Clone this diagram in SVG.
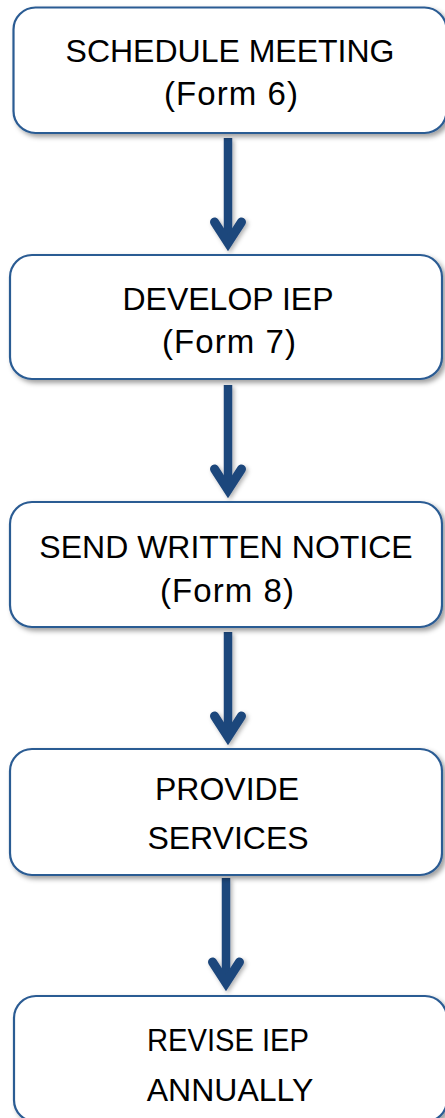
<svg xmlns="http://www.w3.org/2000/svg" width="445" height="1118" viewBox="0 0 445 1118">
<defs>
<filter id="sh" x="-10%" y="-10%" width="130%" height="130%">
<feDropShadow dx="3" dy="3" stdDeviation="2.5" flood-color="#000" flood-opacity="0.38"/>
</filter>
<filter id="ash" x="-50%" y="-10%" width="200%" height="130%">
<feDropShadow dx="2" dy="2" stdDeviation="2" flood-color="#000" flood-opacity="0.3"/>
</filter>
</defs>
<style>
.box{fill:#fff;stroke:#2B5B93;stroke-width:2.2;filter:url(#sh)}
.t{font-family:"Liberation Sans",Arial,sans-serif;font-size:32px;fill:#000;text-anchor:middle}
.f{font-size:33px}
.shaft{stroke:#1F477B;stroke-width:8.5;fill:none}
.head{stroke:#1F477B;stroke-width:9;fill:none;stroke-linecap:round;stroke-linejoin:miter;stroke-miterlimit:10}
</style>
<rect width="445" height="1118" fill="#fff"/>
<g id="connectors" filter="url(#ash)">
<g id="arrow1"><line class="shaft" x1="228" y1="138" x2="228" y2="242"/><polyline class="head" points="214.5,222 228,243 241.5,222"/></g>
<g id="arrow2"><line class="shaft" x1="228" y1="385" x2="228" y2="489"/><polyline class="head" points="214.5,469 228,490 241.5,469"/></g>
<g id="arrow3"><line class="shaft" x1="228" y1="632" x2="228" y2="736"/><polyline class="head" points="214.5,716 228,737 241.5,716"/></g>
<g id="arrow4"><line class="shaft" x1="226" y1="878" x2="226" y2="982"/><polyline class="head" points="212.5,962 226,983 239.5,962"/></g>
</g>
<g id="node1"><rect class="box" x="13.5" y="7.5" width="433" height="125.5" rx="22"/><text class="t" x="230" y="62">SCHEDULE MEETING</text><text class="t f" x="231" y="105" textLength="134" lengthAdjust="spacing">(Form 6)</text></g>
<g id="node2"><rect class="box" x="10" y="255" width="432" height="124" rx="22"/><text class="t" x="228" y="310">DEVELOP IEP</text><text class="t f" x="229" y="353" textLength="134" lengthAdjust="spacing">(Form 7)</text></g>
<g id="node3"><rect class="box" x="10" y="502" width="432" height="125" rx="22"/><text class="t" x="226" y="558">SEND WRITTEN NOTICE</text><text class="t f" x="227" y="602" textLength="134" lengthAdjust="spacing">(Form 8)</text></g>
<g id="node4"><rect class="box" x="10" y="749" width="432" height="126" rx="22"/><text class="t" x="227" y="800">PROVIDE</text><text class="t" x="228" y="849">SERVICES</text></g>
<g id="node5"><rect class="box" x="14" y="996" width="433" height="126" rx="22"/><text class="t" x="228" y="1051" textLength="162" lengthAdjust="spacingAndGlyphs">REVISE IEP</text><text class="t" x="230" y="1101">ANNUALLY</text></g>
</svg>
